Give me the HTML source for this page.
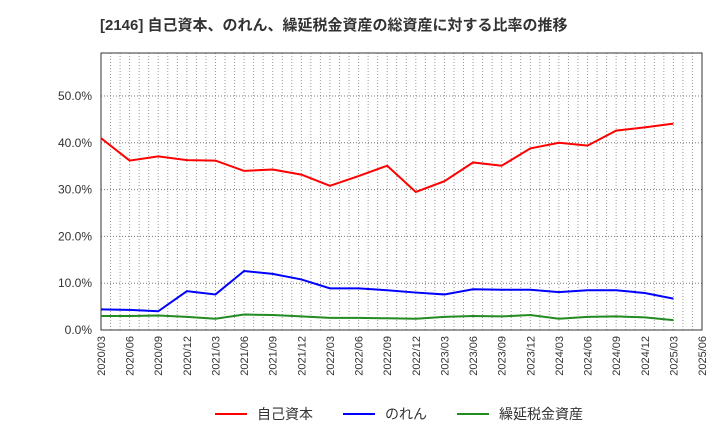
<!DOCTYPE html>
<html><head><meta charset="utf-8"><style>
body{margin:0;background:#fff;width:720px;height:440px;overflow:hidden;font-family:"Liberation Sans","Noto Sans CJK JP",sans-serif}
</style></head><body>
<svg id="c" width="720" height="440" xmlns="http://www.w3.org/2000/svg" style="font-family:'Liberation Sans','Noto Sans CJK JP',sans-serif"></svg>
<script>
const xLabels=["2020/03","2020/06","2020/09","2020/12","2021/03","2021/06","2021/09","2021/12","2022/03","2022/06","2022/09","2022/12","2023/03","2023/06","2023/09","2023/12","2024/03","2024/06","2024/09","2024/12","2025/03","2025/06"];
const yTicks=[0,10,20,30,40,50];
const red=[41.0,36.2,37.1,36.3,36.2,34.0,34.3,33.2,30.8,32.9,35.1,29.5,31.8,35.8,35.1,38.8,40.0,39.4,42.6,43.3,44.1];
const blue=[4.4,4.3,4.0,8.3,7.6,12.6,12.0,10.8,8.9,8.9,8.5,8.0,7.6,8.7,8.6,8.6,8.1,8.5,8.5,7.9,6.7];
const green=[3.0,3.0,3.1,2.8,2.4,3.3,3.2,2.9,2.6,2.6,2.5,2.4,2.8,3.0,2.9,3.2,2.4,2.8,2.9,2.7,2.1];
const L=101,R=702,T=53,B=330;
const xs=i=>L+(R-L)*i/(xLabels.length-1);
const ys=v=>B-v*4.68;
const svg=document.getElementById('c');const NS='http://www.w3.org/2000/svg';
function mk(t,a,p){const e=document.createElementNS(NS,t);for(const k in a)e.setAttribute(k,a[k]);(p||svg).appendChild(e);return e;}
let t=mk('text',{x:100,y:30,'font-size':15,'font-weight':'bold',fill:'#333'});t.textContent='[2146]  自己資本、のれん、繰延税金資産の総資産に対する比率の推移';

for(let m=0;m<=63;m++){const x=L+(R-L)*m/63;const g=mk('line',{x1:x,x2:x,y1:T,y2:B,stroke:'#999','stroke-dasharray':'1,2','stroke-width':1});
}
yTicks.forEach(v=>{const y=ys(v);if(v>0){const g=mk('line',{x1:L,x2:R,y1:y,y2:y,stroke:'#777','stroke-dasharray':'1,2'});}
const tx=mk('text',{x:92,y:y+4,'text-anchor':'end','font-size':12,fill:'#333'});tx.textContent=v.toFixed(1)+'%';
});
const fr=mk('rect',{x:L,y:T,width:R-L,height:B-T,fill:'none',stroke:'#333'});
xLabels.forEach((l,i)=>{const x=xs(i);const tx=mk('text',{x:x+4,y:B+6,'text-anchor':'end','font-size':11,fill:'#333',transform:`rotate(-90 ${x+4} ${B+6})`});tx.textContent=l;
});
[[red,'#f00','equity-ratio-line'],[blue,'#00f','goodwill-ratio-line'],[green,'#228b22','deferred-tax-asset-line']].forEach(([d,c,n])=>{
const p=mk('polyline',{points:d.map((v,i)=>xs(i)+','+ys(v)).join(' '),fill:'none',stroke:c,'stroke-width':2});
});
[['自己資本','#f00',215],['のれん','#00f',343],['繰延税金資産','#228b22',457]].forEach(([l,c,x])=>{
const g=mk('g',{});
mk('line',{x1:x,x2:x+32,y1:414,y2:414,stroke:c,'stroke-width':2},g);
const tx=mk('text',{x:x+42,y:419,'font-size':14,fill:'#333'},g);tx.textContent=l;});
</script>
</body></html>
